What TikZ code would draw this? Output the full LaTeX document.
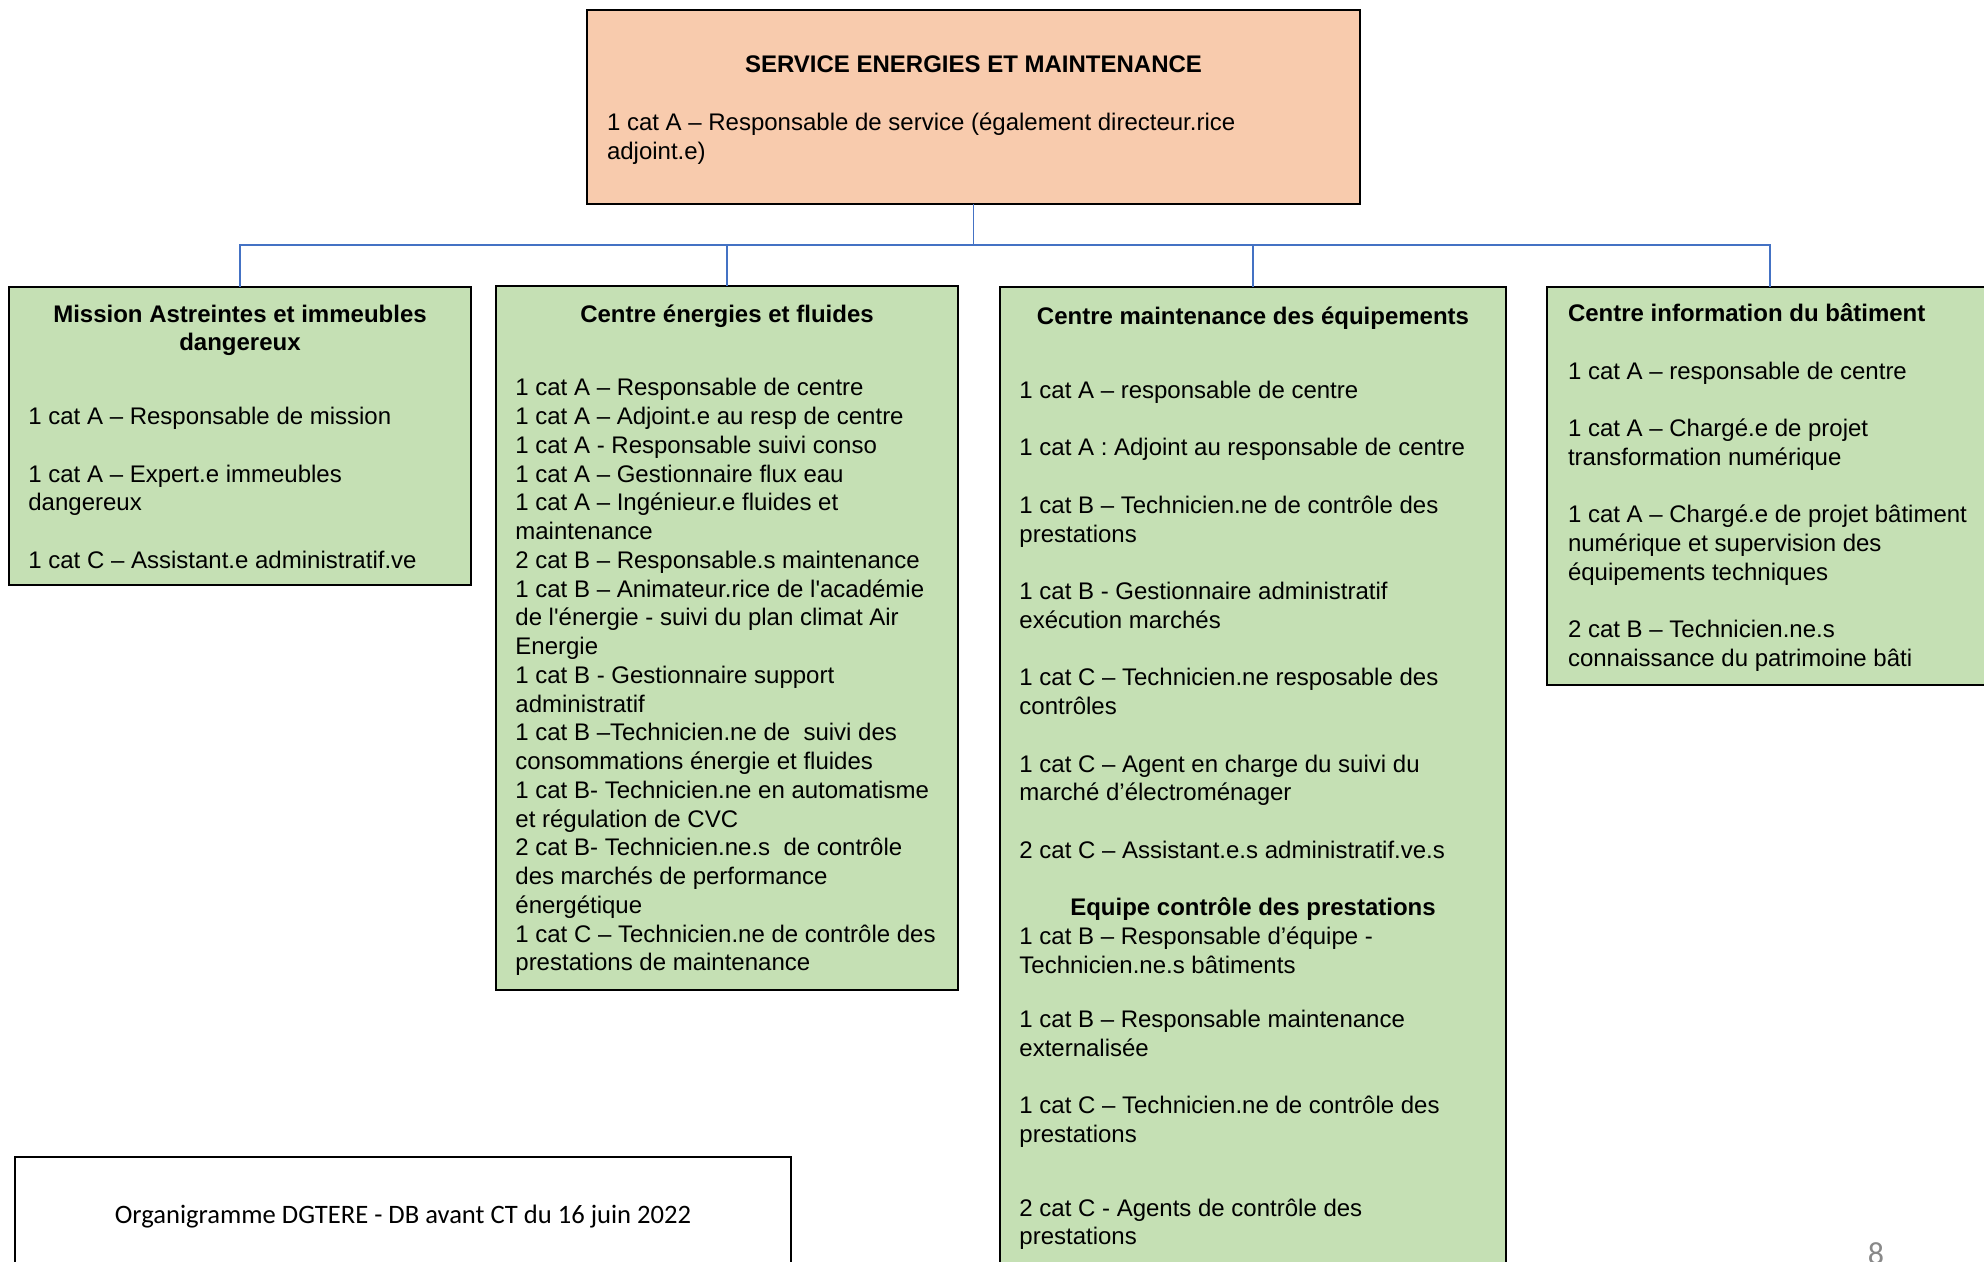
\documentclass[tikz,border=0pt]{standalone}
\usepackage{fontspec}
\setmainfont{Liberation Sans}
\newfontfamily\calibri{Carlito}
\usepackage{tikz}
\usepackage{xcolor}
\definecolor{headfill}{HTML}{F8CBAD}
\definecolor{unitfill}{HTML}{C5E0B4}
\definecolor{linkblue}{HTML}{4472C4}
\definecolor{pagegray}{HTML}{898989}
\newcommand{\boxfont}{\fontsize{12pt}{14.375pt}\selectfont}
\newcommand{\skipline}{\\[\baselineskip]}
\tikzset{
    org-box/.style = {draw=black, line width=1.1pt, rectangle, inner sep=0pt, outer sep=0pt, anchor=north west},
    head-box/.style = {org-box, fill=headfill},
    unit-box/.style = {org-box, fill=unitfill},
    foot-box/.style = {org-box, fill=white},
    link/.style = {draw=linkblue, line width=0.7pt},
}

\begin{document}
\begin{tikzpicture}[x=0.5pt, y=-0.5pt]
\fill[white] (0,0) rectangle (1984,1262);
\useasboundingbox (0,0) rectangle (1984,1262);
\clip (0,0) rectangle (1984,1262);

% service head
\node [head-box] (service) at (587,10) {\begin{minipage}[t][97pt][t]{386.5pt}\boxfont\raggedright\leftskip=10pt
    {\centering\bfseries\rule{0pt}{31.35pt}SERVICE ENERGIES ET MAINTENANCE\par}
    \vspace{14.6pt}
    1 cat A – Responsable de service (également directeur.rice\\
    adjoint.e)
\end{minipage}};

% the four units
\node [unit-box] (mission) at (9,287) {\begin{minipage}[t][149pt][t]{231pt}\boxfont\raggedright\leftskip=9.7pt
    {\centering\bfseries\rule{0pt}{17.5pt}Mission Astreintes et immeubles\\dangereux\par}
    \vspace{22.6pt}
    1 cat A – Responsable de mission\skipline
    1 cat A – Expert.e immeubles\\
    dangereux\skipline
    1 cat C – Assistant.e administratif.ve
\end{minipage}};

\node [unit-box] (energie) at (496,286) {\begin{minipage}[t][352pt][t]{231pt}\boxfont\raggedright\leftskip=9.7pt
    {\centering\bfseries\rule{0pt}{18pt}Centre énergies et fluides\par}
    \vspace{22.6pt}
    1 cat A – Responsable de centre\\
    1 cat A – Adjoint.e au resp de centre\\
    1 cat A - Responsable suivi conso\\
    1 cat A – Gestionnaire flux eau\\
    1 cat A – Ingénieur.e fluides et\\
    maintenance\\
    2 cat B – Responsable.s maintenance\\
    1 cat B – Animateur.rice de l\textquotesingle académie\\
    de l\textquotesingle énergie - suivi du plan climat Air\\
    Energie\\
    1 cat B - Gestionnaire support\\
    administratif\\
    1 cat B –Technicien.ne de~ suivi des\\
    consommations énergie et fluides\\
    1 cat B- Technicien.ne en automatisme\\
    et régulation de CVC\\
    2 cat B- Technicien.ne.s~ de contrôle\\
    des marchés de performance\\
    énergétique\\
    1 cat C – Technicien.ne de contrôle des\\
    prestations de maintenance
\end{minipage}};

\node [unit-box] (maint) at (1000,287) {\begin{minipage}[t][501.5pt][t]{253pt}\boxfont\raggedright\leftskip=9.7pt
    {\centering\bfseries\rule{0pt}{19pt}Centre maintenance des équipements\par}
    \vspace{22.3pt}
    1 cat A – responsable de centre\skipline
    1 cat A : Adjoint au responsable de centre\skipline
    1 cat B – Technicien.ne de contrôle des\\
    prestations\skipline
    1 cat B - Gestionnaire administratif\\
    exécution marchés\skipline
    1 cat C – Technicien.ne resposable des\\
    contrôles\skipline
    1 cat C – Agent en charge du suivi du\\
    marché d’électroménager\skipline
    2 cat C – Assistant.e.s administratif.ve.s\par
    \vspace{\baselineskip}
    {\centering\bfseries Equipe contrôle des prestations\par}
    1 cat B – Responsable d’équipe -\\
    Technicien.ne.s bâtiments\\[12.8pt]
    1 cat B – Responsable maintenance\\
    externalisée\skipline
    1 cat C – Technicien.ne de contrôle des\\
    prestations\\[22.3pt]
    2 cat C - Agents de contrôle des\\
    prestations
\end{minipage}};

\node [unit-box] (info) at (1547,287) {\begin{minipage}[t][199pt][t]{223pt}\boxfont\raggedright\leftskip=10.5pt
    \rule{0pt}{17.35pt}\textbf{Centre information du bâtiment}\skipline
    1 cat A – responsable de centre\skipline
    1 cat A – Chargé.e de projet\\
    transformation numérique\skipline
    1 cat A – Chargé.e de projet bâtiment\\
    numérique et supervision des\\
    équipements techniques\skipline
    2 cat B – Technicien.ne.s\\
    connaissance du patrimoine bâti
\end{minipage}};

% links
\coordinate (bus) at (0,245);
\draw [link] (service.south) -- (service.south |- bus) -| (mission.north);
\draw [link] (service.south |- bus) -| (energie.north);
\draw [link] (service.south |- bus) -| (maint.north);
\draw [link] (service.south |- bus) -| (info.north);

% footer
\node [foot-box] (footer) at (15,1157) {\begin{minipage}[t][71.5pt][t]{388pt}\centering\calibri\fontsize{13.3pt}{16pt}\selectfont
    \rule{0pt}{33pt}Organigramme DGTERE - DB avant CT du 16 juin 2022
\end{minipage}};
\node [anchor=base, text=pagegray, font=\calibri\fontsize{16pt}{16pt}\selectfont] (pagenum) at (1876,1264) {8};
\end{tikzpicture}
\end{document}
